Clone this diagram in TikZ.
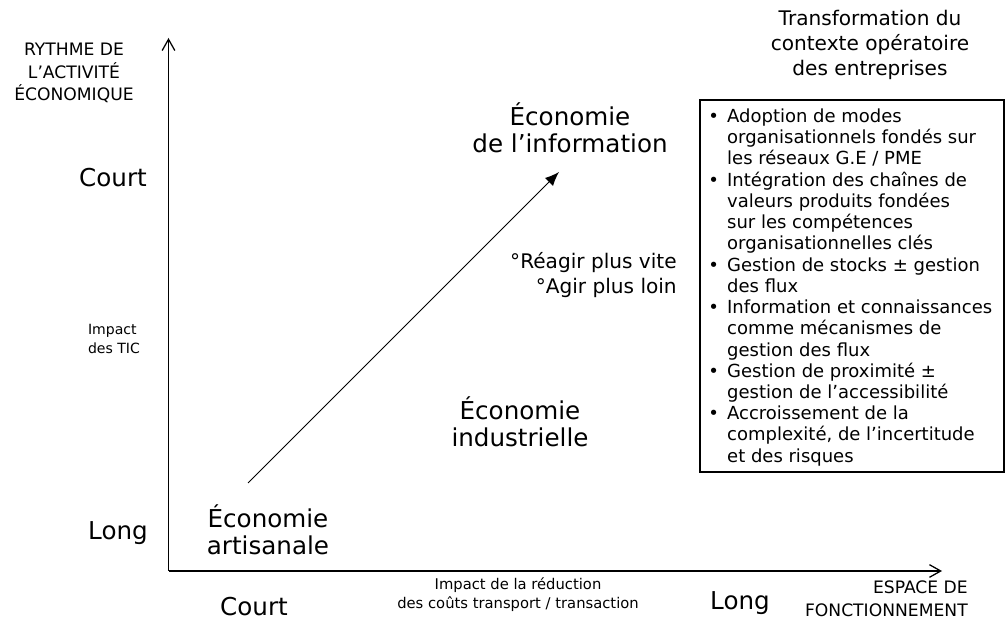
\documentclass[tikz,border=0pt]{standalone}
\usepackage{fontspec}
\setmainfont{DejaVu Sans}
\usetikzlibrary{arrows.meta,positioning}

\newcommand{\puce}{\makebox[1.05em][l]{•}}
\newcommand{\suite}{\hspace*{1.05em}}

\begin{document}
\begin{tikzpicture}[
  every node/.style={inner sep=0pt, align=center},
  axis/.style={line width=0.9pt, -{Straight Barb[length=8pt,width=9pt]}},
  trend/.style={line width=0.7pt, -{Latex[length=10pt,width=8pt]}},
  caps/.style={font=\fontsize{12.2}{16}\selectfont},
  small/.style={font=\fontsize{10.5}{13.5}\selectfont},
  big/.style={font=\fontsize{17.5}{19.5}\selectfont},
  medium/.style={font=\fontsize{14.3}{17.8}\selectfont},
  boxtext/.style={font=\fontsize{12.8}{15.1}\selectfont, align=left}
]
  \useasboundingbox (0,0) rectangle (25.2,15.675);

  % axes
  \coordinate (o) at (4.2125,1.4);
  \coordinate (ytop) at (4.2125,14.725);
  \coordinate (xend) at (23.55,1.4);
  \draw[axis] (o) -- (ytop);
  \draw[axis] (o) -- (xend);

  % axis titles
  \node[caps] (ytitle) at (1.85,13.85) {RYTHME DE\\L’ACTIVITÉ\\ÉCONOMIQUE};
  \node[caps, anchor=east, align=right] (xtitle) at (24.2,0.7) {ESPACE DE\\FONCTIONNEMENT};

  % vertical scale
  \node[big] (ycourt) at (2.825,11.225) {Court};
  \node[small, font=\fontsize{10}{13.5}\selectfont, align=left] (tic) at (2.85,7.2) {Impact\\des TIC};
  \node[big] (ylong) at (2.95,2.35) {Long};

  % horizontal scale
  \node[big] (xcourt) at (6.35,0.5) {Court};
  \node[small] (cout) at (12.95,0.8) {Impact de la réduction\\des coûts transport / transaction};
  \node[big] (xlong) at (18.5,0.6) {Long};

  % stages
  \node[big] (artisan) at (6.7,2.425) {Économie\\artisanale};
  \node[big] (indus) at (13.0,5.125) {Économie\\industrielle};
  \node[big] (info) at (14.25,12.475) {Économie\\de l’information};
  \node[medium, anchor=east, align=right] (vite) at (16.925,8.8) {°Réagir plus vite\\°Agir plus loin};

  \coordinate (t0) at (6.2,3.6);
  \coordinate (t1) at (13.975,11.375);
  \draw[trend] (t0) -- (t1);

  % right column
  \node[medium] (transfo) at (21.75,14.55) {Transformation du\\contexte opératoire\\des entreprises};
  \draw[line width=1pt] (17.5,3.875) rectangle (25.1,13.175);
  \node[boxtext, anchor=west] (liste) at (17.7,8.49) {%
    \puce Adoption de modes\\
    \suite organisationnels fondés sur\\
    \suite les réseaux G.E / PME\\
    \puce Intégration des chaînes de\\
    \suite valeurs produits fondées\\
    \suite sur les compétences\\
    \suite organisationnelles clés\\
    \puce Gestion de stocks ± gestion\\
    \suite des flux\\
    \puce Information et connaissances\\
    \suite comme mécanismes de\\
    \suite gestion des flux\\
    \puce Gestion de proximité ±\\
    \suite gestion de l’accessibilité\\
    \puce Accroissement de la\\
    \suite complexité, de l’incertitude\\
    \suite et des risques};

\end{tikzpicture}
\end{document}
